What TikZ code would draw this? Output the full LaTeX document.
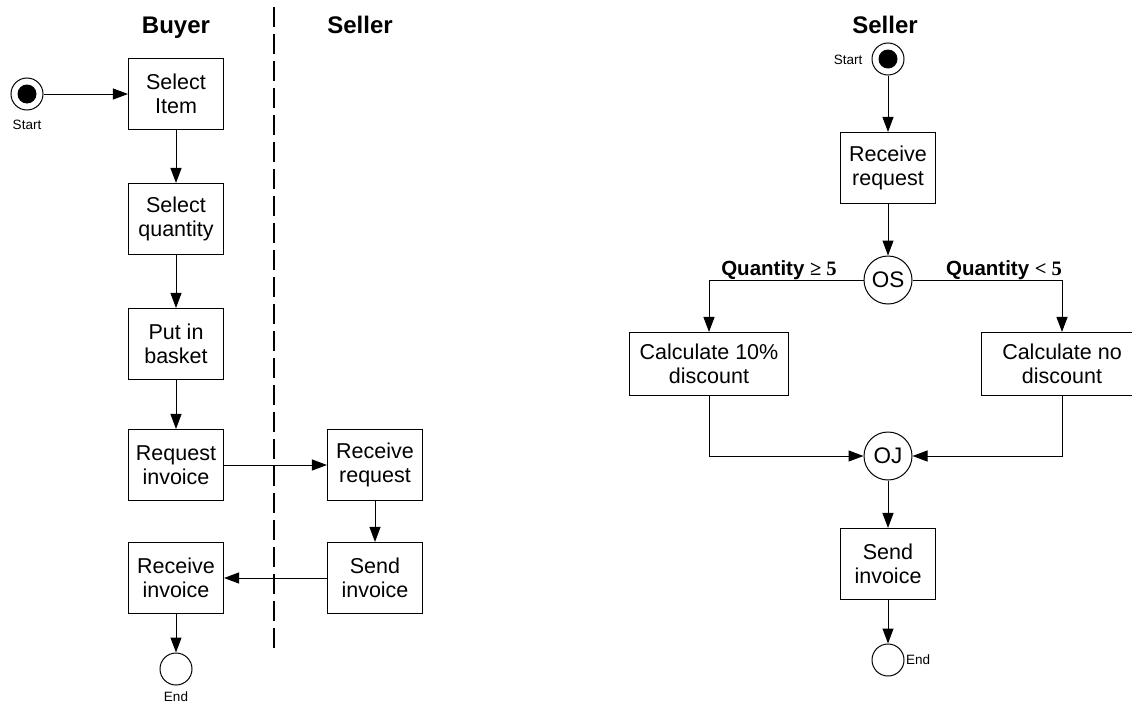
\documentclass[tikz,border=0pt]{standalone}
\usepackage{fontspec}
\setmainfont{Liberation Sans}
\newfontfamily\serifbold{Liberation Serif}
\usetikzlibrary{arrows.meta}
\begin{document}
\begin{tikzpicture}[x=1pt,y=-1pt,
  box/.style={draw,line width=1.1pt,minimum width=95pt,minimum height=71pt,
    inner sep=0pt,align=center,font=\fontsize{21.5}{23.5}\selectfont},
  lane/.style={anchor=base,font=\bfseries\fontsize{24}{27}\selectfont},
  small/.style={font=\fontsize{13.5}{15}\selectfont,inner sep=0pt},
  merge/.style={draw,circle,line width=1pt,minimum size=48pt,inner sep=0pt,
    font=\fontsize{22.5}{24}\selectfont},
  final/.style={draw,circle,line width=1pt,minimum size=32pt,inner sep=0pt},
  cond/.style={anchor=base,font=\fontsize{20.5}{23}\selectfont,inner sep=0pt},
  arr/.style={line width=1pt,-{Triangle[length=15pt,width=11pt]}},
  swim/.style={line width=2pt,dash pattern=on 20pt off 7pt}]
\useasboundingbox (0,0) rectangle (1132,704);

% ---- two-lane activity diagram ----
\node[lane] (buyer) at (176,33) {Buyer};
\node[lane] (sellerA) at (360,33) {Seller};
\coordinate (laneTop) at (274,7);
\coordinate (laneBot) at (274,654);
\draw[swim] (laneTop) -- (laneBot);

\node[final] (startA) at (27,94) {};
\fill (startA.center) circle (9.5);
\node[small] (startAtxt) at (27,125) {Start};

\node[box] (selitem) at (176,94) {Select\\Item};
\node[box] (selqty) at (176,219) {Select\\quantity};
\node[box] (basket) at (176,344) {Put in\\basket};
\node[box] (reqinv) at (176,465) {Request\\invoice};
\node[box] (recinv) at (176,578) {Receive\\invoice};
\node[final] (endA) at (176,669) {};
\node[small] (endAtxt) at (176,697) {End};

\node[box] (recreqA) at (375,465) {Receive\\request};
\node[box] (sendA) at (375,578) {Send\\invoice};

\draw[arr] (startA) -- (selitem);
\draw[arr] (selitem) -- (selqty);
\draw[arr] (selqty) -- (basket);
\draw[arr] (basket) -- (reqinv);
\draw[arr] (reqinv) -- (recreqA);
\draw[arr] (recreqA) -- (sendA);
\draw[arr] (sendA) -- (recinv);
\draw[arr] (recinv) -- (endA);

% ---- seller flow with fork and join ----
\node[lane] (sellerB) at (885,33) {Seller};
\node[final] (startB) at (888,59) {};
\fill (startB.center) circle (9.5);
\node[small] (startBtxt) at (848,60) {Start};

\node[box] (recreqB) at (888,168) {Receive\\request};
\node[merge] (os) at (888,280) {OS};
\node[cond] (geq) at (779,275) {\textbf{Quantity} {\serifbold\bfseries ≥ 5}};
\node[cond] (lt) at (1004,275) {\textbf{Quantity} {\serifbold\bfseries < 5}};

\node[box,minimum width=159pt,minimum height=63pt] (calc10) at (709,364) {Calculate 10\%\\discount};
\node[box,minimum width=161pt,minimum height=63pt] (calcno) at (1062,364) {Calculate no\\discount};
\node[merge] (oj) at (888,456) {OJ};
\node[box] (sendB) at (888,564) {Send\\invoice};
\node[final] (endB) at (888,660) {};
\node[small,anchor=west] (endBtxt) at (906,660) {End};

\draw[arr] (startB) -- (recreqB);
\draw[arr] (recreqB) -- (os);
\draw[arr] (os.west) -| (calc10.north);
\draw[arr] (os.east) -| (calcno.north);
\draw[arr] (calc10.south) |- (oj.west);
\draw[arr] (calcno.south) |- (oj.east);
\draw[arr] (oj) -- (sendB);
\draw[arr] (sendB) -- (endB);
\end{tikzpicture}
\end{document}
